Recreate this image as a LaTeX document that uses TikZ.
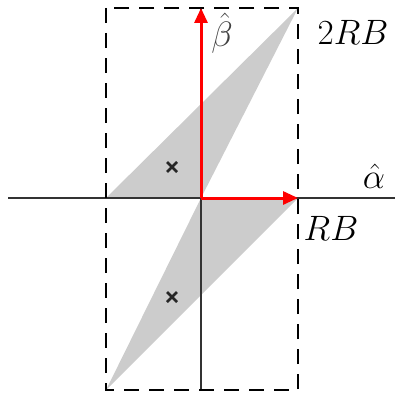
\documentclass[tikz,border=0pt]{standalone}
\usetikzlibrary{arrows.meta}
\newcommand{\biglbl}[1]{\scalebox{1.7}{\fontsize{20}{24}\selectfont #1}}
\begin{document}
\begin{tikzpicture}[x=1pt,y=-1pt,
  axisline/.style={line width=1.6pt,draw=black!80},
  dashbox/.style={line width=1.8pt,dash pattern=on 15pt off 10pt},
  redarrow/.style={line width=3pt,draw=red,-{Triangle[length=15pt,width=13pt]}},
  graybox/.style={fill=black!20,draw=none},
  lbl/.style={inner sep=0pt},
  crossmark/.style={line width=2.6pt,draw=black!85}]
\useasboundingbox (0,0) rectangle (398,396);
\coordinate (O) at (201,198);
\coordinate (TL) at (106,8);
\coordinate (BR) at (298,390);
\coordinate (TR) at (298,8);
\coordinate (BL) at (106,390);
\coordinate (L) at (106,198);
\coordinate (R) at (298,198);
\coordinate (AxL) at (8,198);
\coordinate (AxR) at (395,198);
\coordinate (AxT) at (201,8);
\coordinate (AxB) at (201,390);
% gray regions
\fill[graybox] (L) -- (TR) -- (O) -- cycle;
\fill[graybox] (O) -- (R) -- (BL) -- cycle;
% axes
\draw[axisline] (AxL) -- (AxR);
\draw[axisline] (AxT) -- (AxB);
% dashed box
\draw[dashbox] (TL) rectangle (BR);
% red arrows
\draw[redarrow] (O) -- (AxT);
\draw[redarrow] (O) -- (R);
% crosses
\coordinate (X1) at (172,167);
\coordinate (X2) at (172,297);
\draw[crossmark] ([shift={(-5,-5)}]X1) -- ([shift={(5,5)}]X1) ([shift={(-5,5)}]X1) -- ([shift={(5,-5)}]X1);
\draw[crossmark] ([shift={(-5,-5)}]X2) -- ([shift={(5,5)}]X2) ([shift={(-5,5)}]X2) -- ([shift={(5,-5)}]X2);
% labels
\node[lbl,text=black!75] (beta) at (222,33) {\biglbl{$\hat{\beta}$}};
\node[lbl] (twoRB) at (353,32) {\biglbl{$2RB$}};
\node[lbl] (alpha) at (374,176) {\biglbl{$\hat{\alpha}$}};
\node[lbl] (RB) at (331,228) {\biglbl{$RB$}};
\end{tikzpicture}
\end{document}
